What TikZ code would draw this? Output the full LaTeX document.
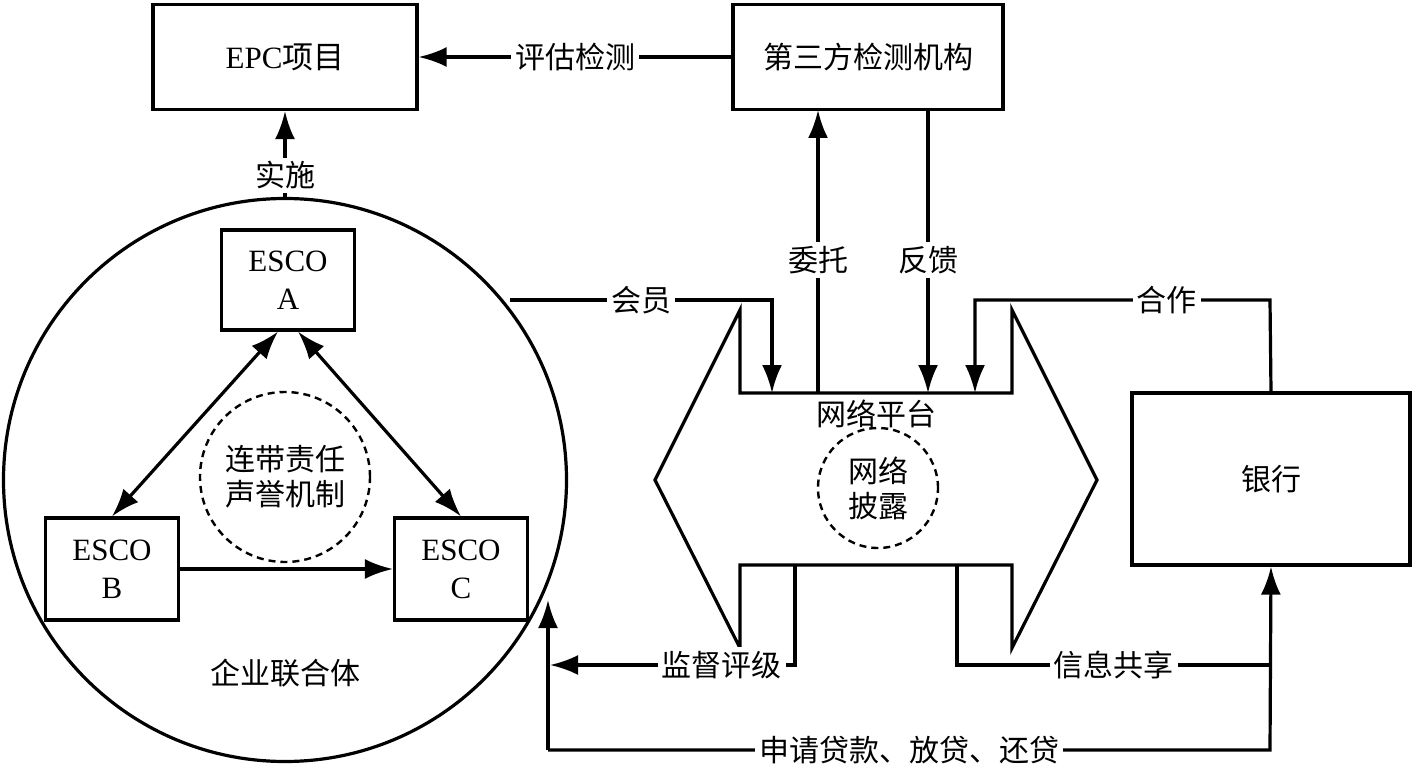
\documentclass[tikz,border=0pt]{standalone}
\usepackage{fontspec}
\setmainfont{Liberation Serif}
\newfontfamily\cjk{Noto Sans CJK SC}
\usetikzlibrary{arrows.meta}
\begin{document}
\begin{tikzpicture}[x=1pt,y=-1pt,every path/.style={line width=3.2pt},
  box/.style={draw,minimum width=#1,align=center,inner sep=0,font=\fontsize{31}{38}\selectfont},
  lbl/.style={fill=white,inner sep=4pt,font=\fontsize{30}{35}\selectfont\cjk},
  arr/.style={-{Latex[length=28pt,width=20pt]}},
  darr/.style={{Latex[length=28pt,width=20pt]}-{Latex[length=28pt,width=20pt]}},
  dcirc/.style={draw,circle,dash pattern=on 7pt off 5pt,line width=2.4pt,align=center,font=\fontsize{30}{35}\selectfont\cjk}]
\useasboundingbox (0,0) rectangle (1417,773);
% boxes
\node[box=264pt,minimum height=105pt] (epc) at (285,57) {EPC{\cjk 项目}};
\node[box=270pt,minimum height=105pt,font=\fontsize{30}{35}\selectfont\cjk] (tp) at (868,57) {第三方检测机构};
\node[box=278pt,minimum height=172pt,font=\fontsize{30}{35}\selectfont\cjk] (bank) at (1271,479) {银行};
\node[draw,circle,minimum size=563pt,inner sep=0] (cons) at (285,480) {};
\node[box=133pt,minimum height=100pt] (a) at (288,280) {ESCO\\A};
\node[box=133pt,minimum height=102pt] (b) at (112,569) {ESCO\\B};
\node[box=133pt,minimum height=102pt] (c) at (461,569) {ESCO\\C};
\node[dcirc,minimum size=170pt] (lian) at (285,477) {连带责任\\声誉机制};
\node[font=\fontsize{30}{35}\selectfont\cjk] (qy) at (285,673) {企业联合体};
% platform
\draw (740,310) -- (740,393) -- (1012,393) -- (1012,310) -- (1097,480) -- (1012,648) -- (1012,565) -- (740,565) -- (740,648) -- (655,480) -- cycle;
\node[font=\fontsize{30}{35}\selectfont\cjk,fill=white,inner sep=1pt] (np) at (876,414) {网络平台};
\node[dcirc,minimum size=120pt] (pl) at (878,488) {网络\\披露};
\coordinate (p1) at (772,393); \coordinate (p2) at (818,393); \coordinate (p3) at (928,393); \coordinate (p4) at (975,393);
\coordinate (q1) at (795,565); \coordinate (q2) at (957,565);
% connectors
\draw[arr] (tp.west) -- node[lbl]{评估检测} (epc.east);
\draw[arr] (cons.north) -- node[lbl,pos=0.25]{实施} (epc.south);
\draw[arr] (510,300) -- node[lbl,pos=0.5]{会员} (772,300) -- (p1);
\draw[arr] (p2) -- node[lbl,pos=0.47]{委托} (818,110);
\draw[arr] (928,110) -- node[lbl,pos=0.53]{反馈} (p3);
\draw[arr] (bank.north) -- (1270,300) -- node[lbl,pos=0.35]{合作} (975,300) -- (p4);
\draw[arr] (q1) -- (795,665) -- node[lbl,pos=0.3]{监督评级} (550,665);
\draw (q2) -- (957,665) -- node[lbl,pos=0.5]{信息共享} (1270,665);
\draw[arr] (548,750) -- (548,600);
\draw[arr] (548,750) -- node[lbl]{申请贷款、放贷、还贷} (1270,750) -- (bank.south);
\draw[darr] (a.south) ++(-10,0) -- (b.north);
\draw[darr] (a.south) ++(10,0) -- (c.north);
\draw[arr] (b.east) -- (c.west);
\end{tikzpicture}
\end{document}
